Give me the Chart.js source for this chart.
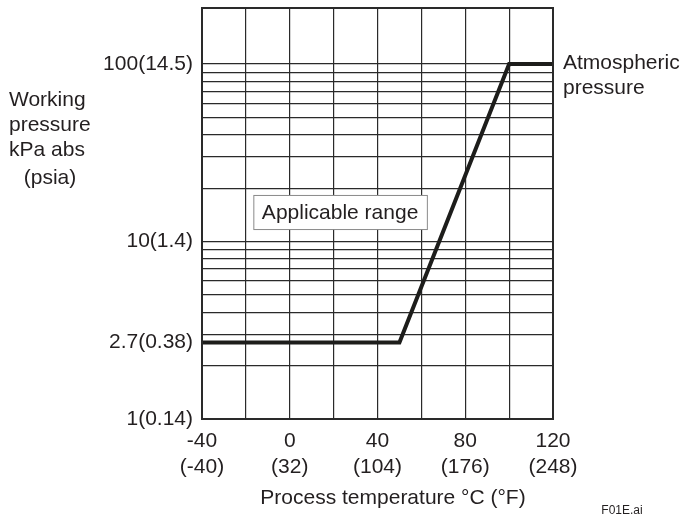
<!DOCTYPE html>
<html>
<head>
<meta charset="utf-8">
<script src="https://cdn.jsdelivr.net/npm/chart.js@4"></script>
<style>
  html, body { margin: 0; padding: 0; background: #fff; }
  #wrap { width: 681px; height: 518px; position: relative; }
</style>
</head>
<body>
<div id="wrap"><canvas id="pressureChart" width="681" height="518"></canvas></div>
<script>
// limit line: process temperature (°C) vs working pressure (kPa abs)
const tempC = [-40, 50, 100, 120];
const pressureKPa = [2.7, 2.7, 100, 100];

// x axis labels (°C and °F)
const xLabelC = ["-40", "0", "40", "80", "120"];
const xLabelF = ["(-40)", "(32)", "(104)", "(176)", "(248)"];

// log grid lines and labelled pressures
const yGrid = [1, 2, 3, 4, 5, 6, 7, 8, 9, 10, 20, 30, 40, 50, 60, 70, 80, 90, 100];
const yLabelValues = [1, 2.7, 10, 100];
const yLabelText = ["1(0.14)", "2.7(0.38)", "10(1.4)", "100(14.5)"];

const FONT = "'Liberation Sans', Arial, Helvetica, sans-serif";
const ctx = document.getElementById("pressureChart").getContext("2d");

const textPlugin = {
  id: "textPlugin",
  afterDraw(chart) {
    const c = chart.ctx;
    const a = chart.chartArea;
    c.save();
    // frame
    c.strokeStyle = "#2a2a2a";
    c.lineWidth = 2;
    c.strokeRect(a.left, a.top, a.right - a.left, a.bottom - a.top);

    c.fillStyle = "#231f20";
    c.font = "21px " + FONT;
    c.textBaseline = "middle";
    c.textAlign = "left";
    c.fillText("Working", 9, 100);
    c.fillText("pressure", 9, 125);
    c.fillText("kPa abs", 9, 150);
    c.textAlign = "center";
    c.fillText("(psia)", 50, 178);

    c.textAlign = "left";
    c.fillText("Atmospheric", 563, 63);
    c.fillText("pressure", 563, 88);

    c.textAlign = "center";
    c.fillText("Process temperature °C (°F)", 393, 498);

    // applicable range box
    const x0 = chart.scales.x.getPixelForValue(-16.6);
    const x1 = chart.scales.x.getPixelForValue(62.5);
    const y0 = chart.scales.y.getPixelForValue(18.3);
    const y1 = chart.scales.y.getPixelForValue(11.76);
    c.fillStyle = "#fff";
    c.fillRect(x0, y0, x1 - x0, y1 - y0);
    c.strokeStyle = "#8a8a8a";
    c.lineWidth = 1;
    c.strokeRect(x0 + 0.5, y0 + 0.5, x1 - x0, y1 - y0);
    c.fillStyle = "#231f20";
    c.fillText("Applicable range", (x0 + x1) / 2, (y0 + y1) / 2 + 1);

    c.font = "12px " + FONT;
    c.fillText("F01E.ai", 622, 511);
    c.restore();
  }
};

new Chart(ctx, {
  type: "line",
  data: {
    datasets: [{
      data: tempC.map((t, i) => ({ x: t, y: pressureKPa[i] })),
      borderColor: "#1d1d1b",
      borderWidth: 4,
      pointRadius: 0,
      fill: false,
      tension: 0,
      clip: false,
    }],
  },
  options: {
    responsive: false,
    animation: false,
    devicePixelRatio: 1,
    layout: { padding: { top: 8, right: 128, left: 0, bottom: 0 } },
    plugins: { legend: { display: false }, tooltip: { enabled: false } },
    scales: {
      x: {
        type: "linear",
        min: -40,
        max: 120,
        afterFit: (s) => { s.height = 99; s.paddingLeft = 0; s.paddingRight = 0; },
        grid: { color: "#2a2a2a", lineWidth: 1.2, drawTicks: false },
        border: { display: false },
        ticks: {
          stepSize: 20,
          autoSkip: false,
          maxRotation: 0,
          padding: 10,
          color: "#231f20",
          font: { family: FONT, size: 21, lineHeight: 1.2 },
          callback: (v) => {
            const i = xLabelC.indexOf(String(v));
            return i >= 0 ? [xLabelC[i], xLabelF[i]] : "";
          },
        },
      },
      y: {
        type: "logarithmic",
        min: 1,
        max: 207,
        afterFit: (s) => { s.width = 202; s.paddingTop = 0; s.paddingBottom = 0; },
        afterBuildTicks: (s) => {
          s.ticks = yGrid.concat([2.7]).sort((p, q) => p - q).map((v) => ({ value: v }));
        },
        grid: {
          drawTicks: false,
          lineWidth: 1.2,
          color: (c) => (c.tick && c.tick.value === 2.7 ? "rgba(0,0,0,0)" : "#2a2a2a"),
        },
        border: { display: false },
        ticks: {
          autoSkip: false,
          padding: 9,
          color: "#231f20",
          font: { family: FONT, size: 21 },
          callback: (v) => {
            const i = yLabelValues.indexOf(v);
            return i >= 0 ? yLabelText[i] : "";
          },
        },
      },
    },
  },
  plugins: [textPlugin],
});
</script>
</body>
</html>
